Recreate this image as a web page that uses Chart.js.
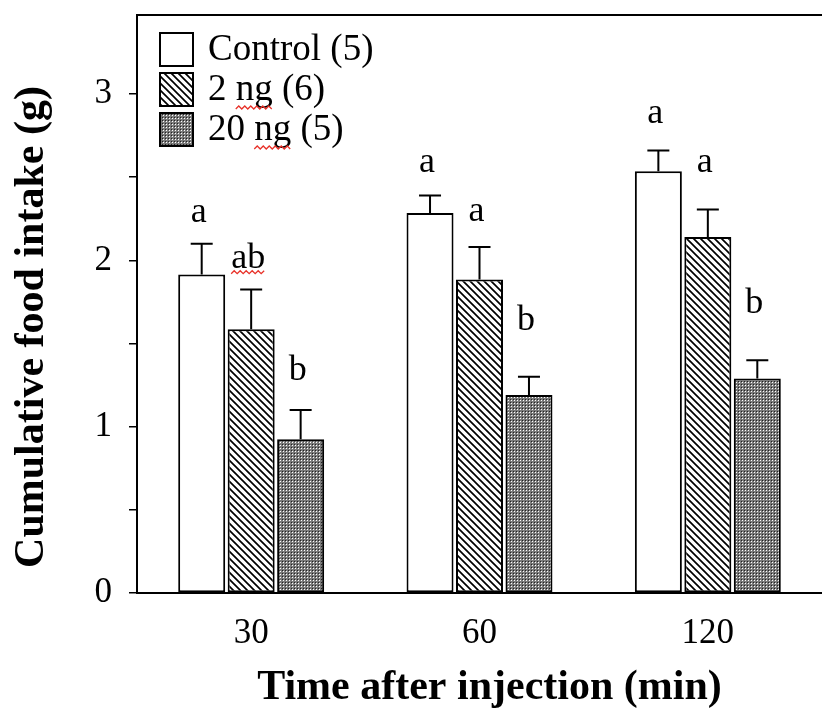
<!DOCTYPE html>
<html>
<head>
<meta charset="utf-8">
<script src="https://cdn.jsdelivr.net/npm/chart.js@4.4.0/dist/chart.umd.min.js"></script>
<style>
html, body { margin: 0; padding: 0; background: #fff; }
#wrap { width: 822px; height: 709px; }
</style>
</head>
<body>
<div id="wrap"><canvas id="grafico" width="822" height="709"></canvas></div>
<script>
// valores
var times = ['30', '60', '120'];
var seriesNames = ['Control (5)', '2 ng (6)', '20 ng (5)'];
var control = [1.915, 2.285, 2.535];
var ng2 = [1.585, 1.885, 2.14];
var ng20 = [0.925, 1.19, 1.29];
var controlSE = [0.185, 0.105, 0.125];
var ng2SE = [0.24, 0.195, 0.165];
var ng20SE = [0.175, 0.11, 0.11];
var controlLetters = ['a', 'a', 'a'];
var ng2Letters = ['ab', 'a', 'a'];
var ng20Letters = ['b', 'b', 'b'];
var controlLetterY = [2.29, 2.59, 2.885];
var ng2LetterY = [2.01, 2.295, 2.59];
var ng20LetterY = [1.34, 1.64, 1.74];
var yTicks = [0, 1, 2, 3];

var canvas = document.getElementById('grafico');
var ctx = canvas.getContext('2d');
var serif = '"Liberation Serif", "Times New Roman", serif';

function hatch() {
    var s = 7;
    var c = document.createElement('canvas'); c.width = s; c.height = s;
    var g = c.getContext('2d');
    g.fillStyle = '#fff'; g.fillRect(0, 0, s, s);
    g.strokeStyle = '#000'; g.lineWidth = 1.7;
    g.beginPath();
    g.moveTo(0, 0); g.lineTo(s, s);
    g.moveTo(-1, s - 1); g.lineTo(1, s + 1);
    g.moveTo(s - 1, -1); g.lineTo(s + 1, 1);
    g.stroke();
    return ctx.createPattern(c, 'repeat');
}

function dots() {
    var c = document.createElement('canvas'); c.width = 3; c.height = 3;
    var g = c.getContext('2d');
    g.fillStyle = '#7a7a7a'; g.fillRect(0, 0, 3, 3);
    g.fillStyle = '#fff'; g.fillRect(1, 1, 1, 1);
    g.fillStyle = '#222'; g.fillRect(0, 0, 1, 1);
    return ctx.createPattern(c, 'repeat');
}

function squiggle(x1, x2, y) {
    ctx.save();
    ctx.strokeStyle = '#e8322a'; ctx.lineWidth = 1.3;
    ctx.beginPath();
    var up = true;
    ctx.moveTo(x1, y);
    for (var x = x1 + 3; x <= x2; x += 3) {
        ctx.lineTo(x, up ? y - 3 : y);
        up = !up;
    }
    ctx.stroke();
    ctx.restore();
}

var extras = {
    id: 'extras',
    afterDatasetsDraw: function (chart) {
        var area = chart.chartArea, y = chart.scales.y;
        var se = [controlSE, ng2SE, ng20SE];
        var letters = [controlLetters, ng2Letters, ng20Letters];
        var letterY = [controlLetterY, ng2LetterY, ng20LetterY];
        ctx.save();
        ctx.strokeStyle = '#000'; ctx.lineWidth = 2;

        // barras de erro e letras
        chart.data.datasets.forEach(function (ds, i) {
            chart.getDatasetMeta(i).data.forEach(function (bar, j) {
                var top = y.getPixelForValue(ds.data[j] + se[i][j]);
                ctx.beginPath();
                ctx.moveTo(bar.x, bar.y); ctx.lineTo(bar.x, top);
                ctx.moveTo(bar.x - 11, top); ctx.lineTo(bar.x + 11, top);
                ctx.stroke();
                ctx.fillStyle = '#000';
                ctx.font = '36px ' + serif;
                ctx.textAlign = 'center'; ctx.textBaseline = 'middle';
                var lx = bar.x - 3, ly = y.getPixelForValue(letterY[i][j]);
                ctx.fillText(letters[i][j], lx, ly);
                if (letters[i][j] === 'ab') {
                    var w = ctx.measureText('ab').width;
                    squiggle(lx - w / 2, lx + w / 2, ly + 15);
                }
            });
        });

        // linha de cima
        ctx.beginPath();
        ctx.moveTo(area.left, area.top); ctx.lineTo(area.right, area.top);
        ctx.stroke();

        // legenda
        var lx0 = area.left + 23, ly0 = area.top + 18;
        chart.data.datasets.forEach(function (ds, i) {
            var by = ly0 + i * 40;
            ctx.fillStyle = ds.backgroundColor;
            ctx.fillRect(lx0, by, 33, 33);
            ctx.strokeRect(lx0, by, 33, 33);
            ctx.fillStyle = '#000';
            ctx.font = '37px ' + serif;
            ctx.textAlign = 'left'; ctx.textBaseline = 'middle';
            var tx = lx0 + 48, ty = by + 17;
            ctx.fillText(ds.label, tx, ty);
            var k = ds.label.indexOf('ng');
            if (k >= 0) {
                var x1 = tx + ctx.measureText(ds.label.slice(0, k)).width;
                squiggle(x1, x1 + ctx.measureText('ng').width, ty + 19);
            }
        });

        // titulos dos eixos
        ctx.font = 'bold 42px ' + serif;
        ctx.textAlign = 'center'; ctx.textBaseline = 'middle';
        ctx.fillText('Time after injection (min)', (area.left + area.right) / 2 + 10, 688);
        ctx.translate(32, (area.top + area.bottom) / 2 + 23);
        ctx.rotate(-Math.PI / 2);
        ctx.fillText('Cumulative food intake (g)', 0, 0);
        ctx.restore();
    }
};

var grafico = new Chart(ctx, {
    type: 'bar',
    data: {
        labels: times,
        datasets: [
            { label: seriesNames[0], data: control, backgroundColor: '#fff' },
            { label: seriesNames[1], data: ng2, backgroundColor: hatch() },
            { label: seriesNames[2], data: ng20, backgroundColor: dots() }
        ]
    },
    options: {
        responsive: false,
        animation: false,
        layout: { padding: { top: 15, right: 0, left: 0, bottom: 0 } },
        datasets: {
            bar: {
                categoryPercentage: 0.65,
                barPercentage: 0.95,
                borderColor: '#000',
                borderWidth: 2,
                borderSkipped: false
            }
        },
        plugins: {
            legend: { display: false },
            tooltip: { enabled: false }
        },
        scales: {
            x: {
                grid: { display: false },
                border: { color: '#000', width: 2 },
                ticks: {
                    color: '#000',
                    padding: 12,
                    font: { family: serif, size: 35 }
                },
                afterFit: function (s) { s.height = 116; }
            },
            y: {
                min: 0,
                max: 3.475,
                afterBuildTicks: function (s) {
                    s.ticks = s.ticks.filter(function (t) {
                        return t.value <= 3.0001 && Math.abs(t.value * 2 - Math.round(t.value * 2)) < 1e-6;
                    });
                },
                ticks: {
                    stepSize: 0.5,
                    autoSkip: false,
                    padding: 17,
                    color: '#000',
                    font: { family: serif, size: 35 },
                    callback: function (v) { return yTicks.indexOf(v) >= 0 ? String(v) : ''; }
                },
                grid: { drawOnChartArea: false, tickLength: 8, color: '#000', lineWidth: 1.5 },
                border: { color: '#000', width: 2 },
                afterFit: function (s) {
                    s.width = 137;
                    s.paddingTop = 0;
                    s.paddingBottom = 0;
                }
            }
        }
    },
    plugins: [extras]
});
</script>
</body>
</html>
